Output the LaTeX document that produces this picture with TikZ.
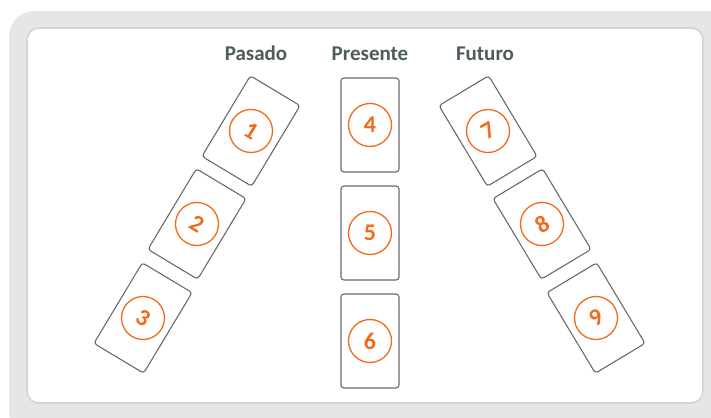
\documentclass[tikz,border=0pt]{standalone}
\usepackage{fontspec}
\setmainfont{Carlito}
\definecolor{cardorange}{HTML}{F26B1D}
\definecolor{cardgray}{HTML}{6A6A6A}
\definecolor{labelgray}{HTML}{4D5D5D}
\definecolor{bandgray}{HTML}{E6E6E6}
\definecolor{framegray}{HTML}{D2D6D6}
\begin{document}
\begin{tikzpicture}[x=1pt,y=1pt,thick]
		\tikzset{card/.style = {draw=cardgray, line width=1.1pt, rounded corners=3pt,
				minimum width=58pt, minimum height=94pt, inner sep=0pt}}
		\tikzset{number/.style = {circle, draw=cardorange, line width=1.3pt, minimum size=43pt,
				inner sep=0pt, text=cardorange, font=\fontsize{24}{26}\selectfont\bfseries}}
		\tikzset{heading/.style = {anchor=base, text=labelgray, font=\fontsize{21}{24}\selectfont\bfseries}}
		\useasboundingbox (0,0) rectangle (711,417);
		
		% background
		\fill[bandgray, rounded corners=25pt] (9,406) rectangle (740,-20);
		\draw[framegray, fill=white, line width=1.6pt, rounded corners=12pt] (27,389) rectangle (703,14);
		
		% headings
		\node[heading] (pasado) at (256,356) {Pasado};
		\node[heading] (presente) at (370,356) {Presente};
		\node[heading] (futuro) at (485,356) {Futuro};
		
		% past cards
		\foreach \i/\x/\y in {1/251/286, 2/197/193, 3/143/99} {
			\node[card, rotate=-31] (c\i) at (\x,\y) {};
			\node[number, rotate=-31] (n\i) at (c\i) {\i};
		}
		
		% present cards
		\foreach \i/\y in {4/292, 5/184, 6/76} {
			\node[card] (c\i) at (370,\y) {};
			\node[number] (n\i) at (c\i) {\i};
		}
		
		% future cards
		\foreach \i/\x/\y in {7/488/286, 8/542/193, 9/596/99} {
			\node[card, rotate=31] (c\i) at (\x,\y) {};
			\node[number, rotate=31] (n\i) at (c\i) {\i};
		}
		\end{tikzpicture}
\end{document}
